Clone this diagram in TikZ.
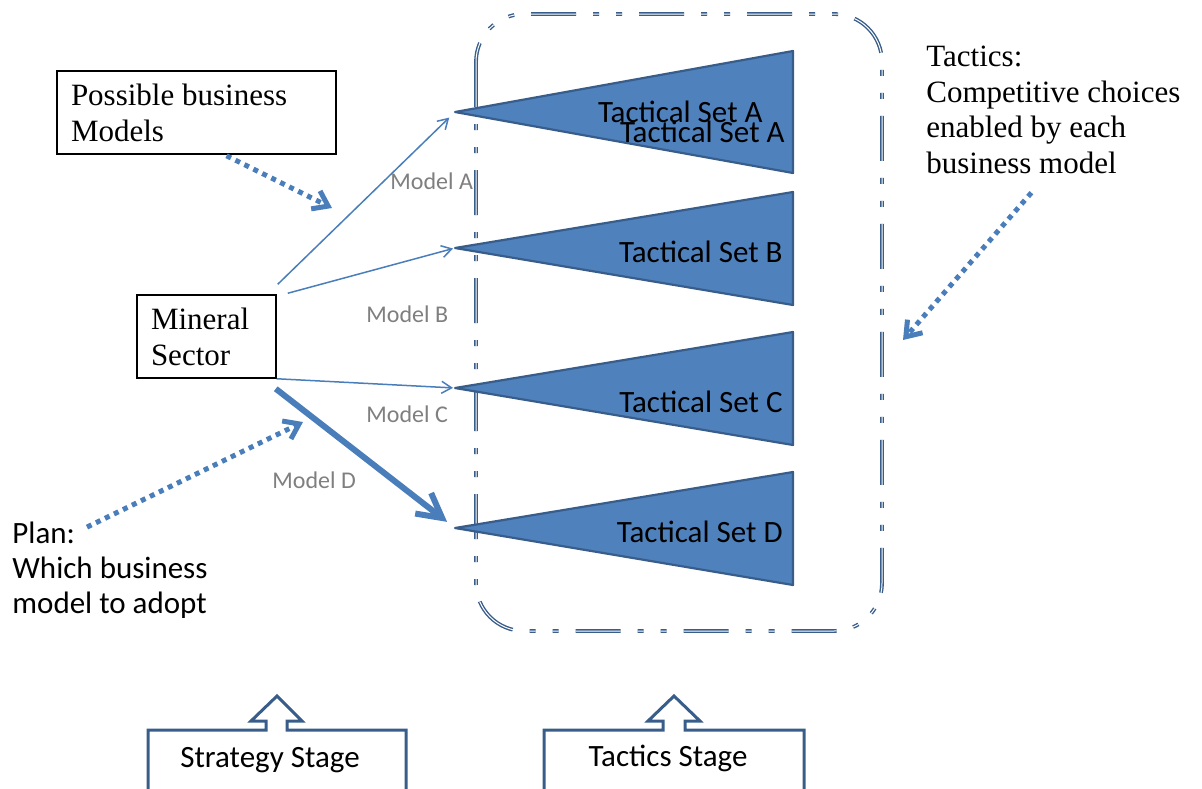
\documentclass[tikz,border=0pt]{standalone}
\usepackage{fontspec}
\setmainfont{Liberation Serif}
\newfontfamily\calfont{Carlito}
\usetikzlibrary{arrows.meta}

\definecolor{setfill}{HTML}{4F81BD}
\definecolor{setline}{HTML}{385D8A}
\definecolor{linkblue}{HTML}{4A7EBB}
\definecolor{labelgray}{HTML}{7F7F7F}

\begin{document}
\begin{tikzpicture}[x=0.5pt, y=-0.5pt,
    box/.style={draw, line width=0.75pt, align=flush left, inner xsep=7pt, minimum height=41.5pt,
        font=\fontsize{15.5pt}{18pt}\selectfont},
    link/.style={draw=linkblue, line width=0.75pt, -{Straight Barb[length=5pt,width=6pt]}},
    hint/.style={draw=linkblue, line width=2.5pt, dash pattern=on 2.5pt off 2.5pt,
        -{Straight Barb[length=7pt,width=10pt]}},
    tset/.style={fill=setfill, draw=setline, line width=1.1pt, line join=round},
    tlabel/.style={anchor=base east, inner sep=0pt, font=\calfont\fontsize{15.5pt}{18pt}\selectfont},
    mlabel/.style={anchor=base west, inner sep=0pt, text=labelgray, font=\calfont\fontsize{12pt}{14pt}\selectfont},
    note/.style={anchor=base west, inner sep=0pt, align=left},
    stage/.style={draw=setline, line width=1.5pt, line join=miter}]

    \useasboundingbox (0,0) rectangle (1202,788);

    % frame round the tactical sets
    \draw[setline, line width=0.7pt, double=white, double distance=0.5pt, rounded corners=24pt,
        dash pattern=on 22.5pt off 8.5pt on 3pt off 8.5pt on 3pt off 8.5pt] (476,14) rectangle (882,631);

    \coordinate (tA) at (455,112);
    \draw[tset] (tA) -- (793,51) -- (793,173) -- cycle;
    \foreach \n/\y in {B/248, C/388, D/528} {
        \coordinate (t\n) at (455,\y);
        \draw[tset] (t\n) -- (793,\y-56) -- (793,\y+57) -- cycle;
    }

    \node[tlabel] (setA1) at (763,122) {Tactical Set A};
    \node[tlabel] (setA2) at (785,142) {Tactical Set A};
    \node[tlabel] (setB) at (783,262) {Tactical Set B};
    \node[tlabel] (setC) at (783,412) {Tactical Set C};
    \node[tlabel] (setD) at (783,542) {Tactical Set D};

    \node[box, text width=125.5pt] (possible) at (196.5,112.5) {Possible business\\Models};
    \node[box, text width=55.5pt] (mineral) at (206.5,336.5) {Mineral\\Sector};

    \draw[link, shorten >=4pt] ([shift={(1,-10)}]mineral.north east) -- (tA);
    \draw[link, shorten >=1pt] ([shift={(11,-1)}]mineral.north east) -- (tB);
    \draw[link, shorten >=1pt] (mineral.south east) -- (tC);
    \draw[link, line width=3pt, -{Straight Barb[length=12pt,width=13pt]}, shorten >=5pt]
        ([shift={(-1,10)}]mineral.south east) -- (tD);

    \node[mlabel] (modelA) at (390,189) {Model A};
    \node[mlabel] (modelB) at (366,322) {Model B};
    \node[mlabel] (modelC) at (366,422) {Model C};
    \node[mlabel] (modelD) at (272,488) {Model D};

    % base of a multi-line note is its last line
    \node[note, font=\fontsize{15.5pt}{17.75pt}\selectfont] (tactics) at (926,173)
        {Tactics:\\Competitive choices\\enabled by each\\business model};
    \node[note, font=\calfont\fontsize{15.5pt}{17.5pt}\selectfont] (plan) at (12,613)
        {Plan:\\Which business\\model to adopt};

    \coordinate (hintP) at (332,208);
    \coordinate (hintM) at (303,422);
    \coordinate (hintT) at (903,340);
    \draw[hint] ([shift={(30,1)}]possible.south) -- (hintP);
    \draw[hint] ([shift={(75,6)}]plan.north west) -- (hintM);
    \draw[hint] ([shift={(-22,19)}]tactics.south) -- (hintT);

    % stage callouts
    \node[anchor=base, font=\calfont\fontsize{15.5pt}{18pt}\selectfont] (strategy) at (270,767) {Strategy Stage};
    \node[anchor=base, font=\calfont\fontsize{15.5pt}{18pt}\selectfont] (tacticstage) at (668,766) {Tactics Stage};
    \draw[stage] (148,792) |- (266,730) -- (266,721) -- (251,721) -- (277,696) -- (302,721)
        -- (287,721) -- (287,730) -| (406,792);
    \draw[stage] (544,792) |- (663,730) -- (663,721) -- (648,721) -- (674,696) -- (700,721)
        -- (685,721) -- (685,730) -| (804,792);

\end{tikzpicture}
\end{document}
